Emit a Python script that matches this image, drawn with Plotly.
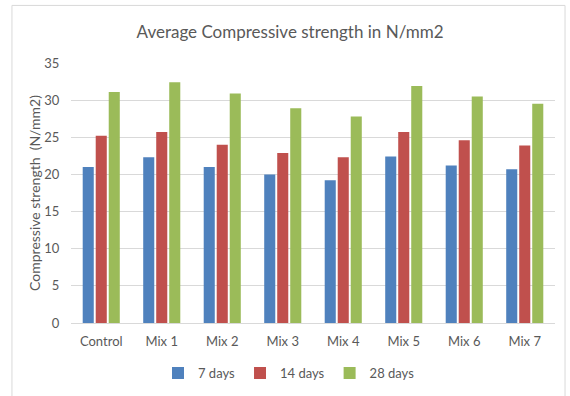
import plotly.graph_objects as go

# Compressive strength results (N/mm2) by mix and curing age
mixes = ["Control", "Mix 1", "Mix 2", "Mix 3", "Mix 4", "Mix 5", "Mix 6", "Mix 7"]
days_7 = [21.0, 22.3, 21.0, 20.0, 19.2, 22.4, 21.2, 20.7]
days_14 = [25.2, 25.7, 24.0, 22.9, 22.3, 25.7, 24.6, 23.9]
days_28 = [31.1, 32.4, 30.9, 28.9, 27.8, 31.9, 30.5, 29.5]
y_ticks = [0, 5, 10, 15, 20, 25, 30, 35]

series = [
    ("7 days", days_7, "#4F81BD"),
    ("14 days", days_14, "#C0504D"),
    ("28 days", days_28, "#9BBB59"),
]

FONT = "Lato"
GREY = "#595959"

fig = go.Figure()
for name, vals, color in series:
    fig.add_trace(go.Bar(x=mixes, y=vals, name=name, marker_color=color,
                         marker_line_width=0))

fig.update_layout(
    width=570, height=396,
    margin=dict(l=71, r=15, t=63, b=73),
    paper_bgcolor="white", plot_bgcolor="white",
    barmode="group", bargap=0.355, bargroupgap=0.15,
    font=dict(family=FONT, size=13, color=GREY),
    title=dict(text="Average Compressive strength in N/mm2",
               x=0.509, xanchor="center", xref="container",
               y=0.92, yanchor="middle", yref="container",
               font=dict(family=FONT, size=17, color=GREY)),
    showlegend=True,
    legend=dict(orientation="h", x=0.507, xanchor="center", xref="container",
                y=0.058, yanchor="middle", yref="container",
                font=dict(family=FONT, size=13, color=GREY),
                itemwidth=30, traceorder="normal"),
    xaxis=dict(showgrid=False, showline=True, linecolor="#d9d9d9",
               linewidth=1, ticks="", ticklabelstandoff=6,
               automargin=False,
               tickfont=dict(size=13, color=GREY)),
    yaxis=dict(range=[0, 35], tickvals=y_ticks, showgrid=True,
               gridcolor="#d9d9d9", gridwidth=1, zeroline=False,
               showline=False, ticks="outside", ticklen=8,
               tickcolor="rgba(0,0,0,0)", automargin=False,
               tickfont=dict(size=13, color=GREY),
               title=dict(text="Compressive strength  (N/mm2)",
                          font=dict(size=14, color=GREY), standoff=0)),
    shapes=[dict(type="rect", xref="paper", yref="paper",
                 x0=-0.122, x1=1.0207, y0=-0.30, y1=1.2214,
                 line=dict(color="#d9d9d9", width=1), layer="below")],
)

fig.write_html("out.html")
